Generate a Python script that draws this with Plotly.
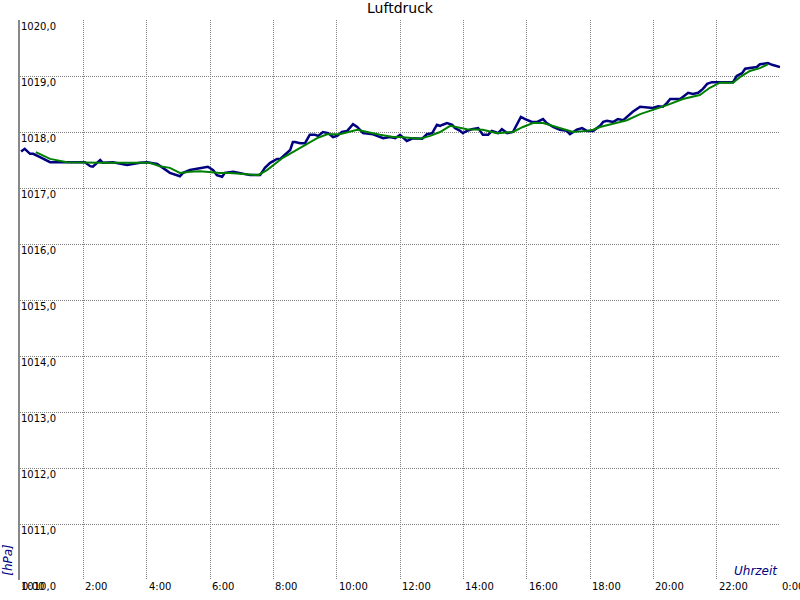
import pandas as pd
import plotly.graph_objects as go

# Minutes since midnight and pressure in hPa (measured, blue)
raw_minutes = [2, 9, 19, 25, 38, 57, 63, 89, 108, 123, 133, 138, 152, 157, 176, 203, 227, 241, 260, 271,
               284, 303, 309, 322, 335, 341, 356, 366, 373, 383, 388, 404, 423, 436, 455, 464, 474, 487, 493,
               502, 512, 517, 521, 531, 540, 549, 559, 565, 574, 584, 593, 601, 610, 620, 631, 639, 650, 669,
               688, 701, 711, 720, 733, 745, 762, 771, 781, 790, 796, 801, 809, 819, 824, 834, 839, 847, 856,
               868, 877, 887, 894, 900, 906, 913, 923, 934, 942, 949, 957, 970, 980, 991, 998, 1010, 1023,
               1036, 1042, 1055, 1065, 1074, 1086, 1099, 1105, 1112, 1124, 1133, 1143, 1150, 1161, 1175, 1199,
               1209, 1218, 1226, 1232, 1251, 1260, 1266, 1275, 1285, 1294, 1302, 1311, 1317, 1322, 1340, 1351,
               1358, 1368, 1374, 1387, 1396, 1402, 1412, 1417, 1425, 1434, 1440]
raw_values = [1017.65, 1017.70, 1017.61, 1017.61, 1017.55, 1017.46, 1017.46, 1017.46, 1017.45, 1017.46,
              1017.39, 1017.38, 1017.50, 1017.45, 1017.46, 1017.41, 1017.45, 1017.46, 1017.43, 1017.36,
              1017.27, 1017.21, 1017.27, 1017.32, 1017.34, 1017.36, 1017.38, 1017.32, 1017.23, 1017.20,
              1017.27, 1017.29, 1017.25, 1017.23, 1017.23, 1017.36, 1017.45, 1017.52, 1017.52, 1017.59,
              1017.68, 1017.82, 1017.82, 1017.80, 1017.80, 1017.95, 1017.95, 1017.93, 1018.00, 1017.98,
              1017.91, 1017.93, 1018.00, 1018.02, 1018.14, 1018.09, 1017.98, 1017.96, 1017.89, 1017.91,
              1017.89, 1017.95, 1017.84, 1017.89, 1017.88, 1017.96, 1017.98, 1018.13, 1018.11, 1018.13,
              1018.16, 1018.13, 1018.07, 1018.02, 1017.98, 1018.02, 1018.05, 1018.07, 1017.95, 1017.95,
              1018.02, 1018.00, 1017.98, 1018.05, 1017.98, 1018.00, 1018.13, 1018.27, 1018.23, 1018.18,
              1018.18, 1018.23, 1018.16, 1018.09, 1018.04, 1018.02, 1017.96, 1018.04, 1018.07, 1018.02,
              1018.02, 1018.11, 1018.18, 1018.20, 1018.18, 1018.23, 1018.21, 1018.27, 1018.36, 1018.45,
              1018.43, 1018.46, 1018.45, 1018.52, 1018.59, 1018.59, 1018.66, 1018.70, 1018.68, 1018.70,
              1018.77, 1018.86, 1018.89, 1018.89, 1018.88, 1018.88, 1018.89, 1019.00, 1019.05, 1019.13,
              1019.14, 1019.16, 1019.21, 1019.23, 1019.23, 1019.20, 1019.18, 1019.16]

# Smoothed series (green)
avg_minutes = [30, 57, 89, 152, 246, 265, 284, 303, 322, 341, 379, 398, 451, 468, 498, 531, 563, 582, 606,
               639, 657, 682, 707, 720, 758, 777, 796, 815, 847, 877, 904, 934, 953, 972, 991, 1017, 1048,
               1074, 1086, 1099, 1131, 1150, 1175, 1199, 1226, 1256, 1288, 1307, 1326, 1351, 1364, 1383,
               1402, 1417]
avg_values = [1017.64, 1017.52, 1017.46, 1017.45, 1017.45, 1017.39, 1017.36, 1017.27, 1017.29, 1017.30,
              1017.27, 1017.27, 1017.23, 1017.32, 1017.54, 1017.71, 1017.89, 1017.96, 1017.96, 1018.04,
              1018.00, 1017.95, 1017.91, 1017.91, 1017.88, 1017.93, 1018.00, 1018.11, 1018.05, 1018.04,
              1017.98, 1018.00, 1018.09, 1018.16, 1018.16, 1018.09, 1018.00, 1018.02, 1018.04, 1018.09,
              1018.16, 1018.21, 1018.32, 1018.39, 1018.48, 1018.59, 1018.66, 1018.79, 1018.88, 1018.88,
              1018.98, 1019.09, 1019.14, 1019.21]

x_tick_hours = list(range(0, 25, 2))
x_tick_labels = [f"{h % 24}:00" for h in x_tick_hours]
y_ticks = list(range(1010, 1021))
y_tick_labels = [f"{v},0" for v in y_ticks]

base = pd.Timestamp("2024-01-01")
to_time = lambda mins: [base + pd.Timedelta(minutes=m) for m in mins]
x_tick_times = [base + pd.Timedelta(hours=h) for h in x_tick_hours]

FONT = "DejaVu Sans"
fig = go.Figure()
fig.add_trace(go.Scatter(x=to_time(raw_minutes), y=raw_values, mode="lines",
                         line=dict(color="#000080", width=2.5), showlegend=False))
fig.add_trace(go.Scatter(x=to_time(avg_minutes), y=avg_values, mode="lines",
                         line=dict(color="#008000", width=2), showlegend=False))

annotations = []
for t, lab in zip(x_tick_times, x_tick_labels):
    annotations.append(dict(text=lab, x=t, xref="x", y=0, yref="paper", xanchor="left",
                            yanchor="top", xshift=0, yshift=1, showarrow=False,
                            font=dict(family=FONT, size=10, color="black")))
for v, lab in zip(y_ticks, y_tick_labels):
    annotations.append(dict(text=lab, x=0, xref="paper", y=v, yref="y", xanchor="left",
                            yanchor="top", xshift=-1, yshift=1, showarrow=False,
                            font=dict(family=FONT, size=10, color="black")))
annotations += [
    dict(text="<i>[hPa]</i>", xref="paper", yref="paper", x=-12 / 760, y=0.004,
         xanchor="center", yanchor="bottom", textangle=-90, showarrow=False,
         font=dict(family=FONT, size=12, color="#000080")),
    dict(text="<i>Uhrzeit</i>", xref="paper", yref="paper", x=1, y=0.0,
         xanchor="right", yanchor="bottom", showarrow=False,
         font=dict(family=FONT, size=12, color="#000080")),
]

fig.update_layout(
    width=800, height=600,
    margin=dict(l=20, r=20, t=20, b=20, autoexpand=False),
    paper_bgcolor="white", plot_bgcolor="white",
    font=dict(family=FONT, size=10, color="black"),
    title=dict(text="Luftdruck", x=0.5, xanchor="center", y=1 - 8 / 600, yanchor="middle",
               xref="paper", font=dict(family=FONT, size=14, color="black")),
    xaxis=dict(range=[base, base + pd.Timedelta(hours=24)], tickvals=x_tick_times,
               showticklabels=False, ticks="",
               showgrid=True, gridcolor="#808080", griddash="1px,1px", gridwidth=1,
               zeroline=False, showline=False),
    yaxis=dict(range=[1010, 1020], tickvals=y_ticks, showticklabels=False, ticks="",
               showgrid=True, gridcolor="#808080", griddash="1px,1px", gridwidth=1,
               zeroline=False, showline=True, linecolor="#888888", linewidth=2),
    annotations=annotations,
)

fig.write_html("out.html", config={"displayModeBar": False},
               post_script="document.body.style.margin='0px';")
